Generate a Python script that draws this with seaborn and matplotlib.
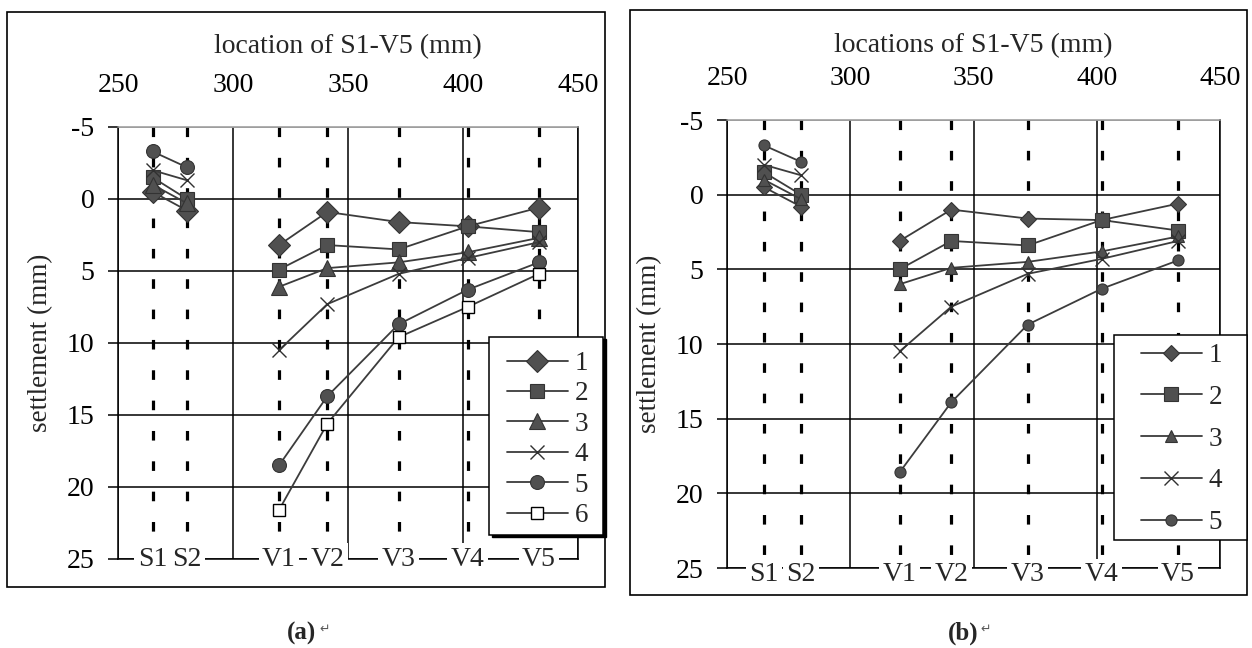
import numpy as np
import pandas as pd
import matplotlib
matplotlib.use("Agg")
import matplotlib.pyplot as plt
import seaborn as sns
from matplotlib.patches import Rectangle

sns.set_theme(style="white")
plt.rcParams["font.family"] = ["Liberation Serif", "DejaVu Sans"]
plt.rcParams["axes.unicode_minus"] = False

# ---------------- data ----------------
locations = ["S1", "S2", "V1", "V2", "V3", "V4", "V5"]
location_mm = [265, 280, 320, 341, 372, 402, 433]
segment = ["S", "S", "V", "V", "V", "V", "V"]
x_ticks = [250, 300, 350, 400, 450]
y_ticks = [-5, 0, 5, 10, 15, 20, 25]
series_names = ["1", "2", "3", "4", "5", "6"]

# panel (a) settlements (mm)
a_1 = [-0.5, 0.8, 3.2, 0.9, 1.6, 1.9, 0.6]
a_2 = [-1.5, 0.0, 4.9, 3.2, 3.5, 1.9, 2.3]
a_3 = [-1.0, 0.3, 6.1, 4.8, 4.4, 3.7, 2.7]
a_4 = [-2.0, -1.3, 10.5, 7.3, 5.2, 4.1, 3.0]
a_5 = [-3.3, -2.2, 18.5, 13.7, 8.7, 6.3, 4.4]
a_6 = [np.nan, np.nan, 21.6, 15.6, 9.6, 7.5, 5.2]

# panel (b) settlements (mm)
b_1 = [-0.5, 0.8, 3.1, 1.0, 1.6, 1.7, 0.6]
b_2 = [-1.5, 0.0, 5.0, 3.1, 3.4, 1.7, 2.4]
b_3 = [-1.0, 0.3, 6.0, 4.9, 4.5, 3.8, 2.8]
b_4 = [-2.0, -1.3, 10.5, 7.5, 5.3, 4.3, 3.1]
b_5 = [-3.3, -2.2, 18.6, 13.9, 8.7, 6.3, 4.4]


def long_frame(series_lists):
    rows = []
    for name, vals in zip(series_names, series_lists):
        for loc, xmm, seg, v in zip(locations, location_mm, segment, vals):
            if not np.isnan(v):
                rows.append(dict(series=name, location=loc, x=xmm,
                                 segment=seg, settlement=v))
    return pd.DataFrame(rows)


df_a = long_frame([a_1, a_2, a_3, a_4, a_5, a_6])
df_b = long_frame([b_1, b_2, b_3, b_4, b_5])

markers = {"1": "D", "2": "s", "3": "^", "4": "x", "5": "o", "6": "s"}
line_col = "#3c3c3c"
mark_col = "#505050"

W, H = 1252, 648
fig = plt.figure(figsize=(W / 100, H / 100), dpi=100)


def fx(px):
    return px / W


def fy(py):
    return 1 - py / H


def panel(ax, df, sizes, xlabel, xlabelpad, label_off, leg_frame, leg_anchor,
          leg_spacing, leg_shadow):
    ax.set_xlim(250, 450)
    ax.set_ylim(25, -5)
    # vertical dashed lines at measurement locations
    ax.vlines(location_mm, -5, 25, colors="black", linewidth=2.3,
              linestyles=(0, (3, 6.5)), zorder=1.5)
    for name in df["series"].unique():
        sub = df[df["series"] == name]
        m = markers[name]
        kw = dict(marker=m, markersize=sizes[name], color=line_col,
                  linewidth=1.3)
        if name == "6":
            kw.update(markerfacecolor="white", markeredgecolor="black",
                      markeredgewidth=1.0)
        elif m == "x":
            kw.update(markeredgecolor="#303030", markeredgewidth=1.0)
        else:
            kw.update(markerfacecolor=mark_col, markeredgecolor="#333333",
                      markeredgewidth=0.8)
        sns.lineplot(data=sub, x="x", y="settlement", units="segment",
                     estimator=None, sort=False, label=name, ax=ax,
                     zorder=3, **kw)

    # axes cosmetics
    ax.set_xticks(x_ticks)
    ax.set_yticks(y_ticks)
    ax.xaxis.tick_top()
    ax.xaxis.set_label_position("top")
    ax.tick_params(axis="x", length=0, pad=21, labelsize=20, colors="black")
    ax.tick_params(axis="y", left=True, direction="out", length=7, width=1.1,
                   pad=10, labelsize=20, colors="black")
    ax.set_xlabel(xlabel, fontsize=20, labelpad=xlabelpad)
    ax.set_ylabel("settlement (mm)", fontsize=19.5, labelpad=10)
    ax.set_axisbelow(True)
    ax.grid(True, color="black", linewidth=1.1)
    ax.get_ygridlines()[0].set_color("0.6")
    for s in ax.spines.values():
        s.set_color("black")
        s.set_linewidth(1.1)
    ax.spines["top"].set_color("0.6")

    # category labels along the bottom
    for loc, xmm in zip(locations, location_mm):
        ax.annotate(loc, (xmm, 25), xytext=(0, label_off),
                    textcoords="offset points", ha="center", va="center",
                    fontsize=20, zorder=6, annotation_clip=False,
                    bbox=dict(boxstyle="square,pad=0.12", fc="white",
                              ec="none"))

    # legend box (frame drawn separately so its padding can match)
    x0, y0, x1, y1 = leg_frame
    if leg_shadow:
        ax.add_patch(Rectangle((fx(x0 + 3), fy(y1 + 2)), fx(x1 - x0),
                               (y1 - y0) / H, transform=fig.transFigure,
                               facecolor="black", edgecolor="black",
                               clip_on=False, zorder=8))
    ax.add_patch(Rectangle((fx(x0), fy(y1)), fx(x1 - x0), (y1 - y0) / H,
                           transform=fig.transFigure, facecolor="white",
                           edgecolor="black", linewidth=1.1,
                           clip_on=False, zorder=9))
    handles, labels = ax.get_legend_handles_labels()
    uniq = {}
    for h, l in zip(handles, labels):
        uniq.setdefault(l, h)
    leg = ax.legend(list(uniq.values()), list(uniq.keys()), loc="upper left",
                    bbox_to_anchor=(fx(leg_anchor[0]), fy(leg_anchor[1])),
                    bbox_transform=fig.transFigure, fontsize=19.5,
                    frameon=False, borderpad=0,
                    labelspacing=leg_spacing, handlelength=2.25,
                    handletextpad=0.25, borderaxespad=0)
    leg.set_zorder(10)


ax_a = fig.add_axes([fx(118), fy(559), fx(578 - 118), (559 - 127) / H])
panel(ax_a, df_a,
      {"1": 11, "2": 10, "3": 12, "4": 10, "5": 10, "6": 9},
      "location of S1-V5 (mm)", 14, 0,
      (489, 337, 603, 535), (507, 351), 0.2, True)

ax_b = fig.add_axes([fx(727), fy(568), fx(1220 - 727), (568 - 120) / H])
panel(ax_b, df_b,
      {"1": 8, "2": 10, "3": 9, "4": 10, "5": 8},
      "locations of S1-V5 (mm)", 10, -5,
      (1114, 335, 1247, 540), (1141, 343), 0.62, False)

# outer frames for each panel
for (x0, y0, x1, y1) in [(7, 12, 605, 587), (630, 10, 1247, 595)]:
    fig.add_artist(Rectangle((fx(x0), fy(y1)), fx(x1 - x0), (y1 - y0) / H,
                             transform=fig.transFigure, fill=False,
                             edgecolor="black", linewidth=1.2, zorder=0))

# captions
for txt, xp in [("(a)", 302), ("(b)", 963)]:
    fig.text(fx(xp), fy(633), txt, ha="center", va="center", fontsize=18,
             fontweight="bold")
    fig.text(fx(xp + 17), fy(629), "\u21b5", ha="left", va="center",
             fontsize=9, color="0.35", family=["DejaVu Sans"])

fig.savefig("out.png", dpi=100, facecolor="white")
